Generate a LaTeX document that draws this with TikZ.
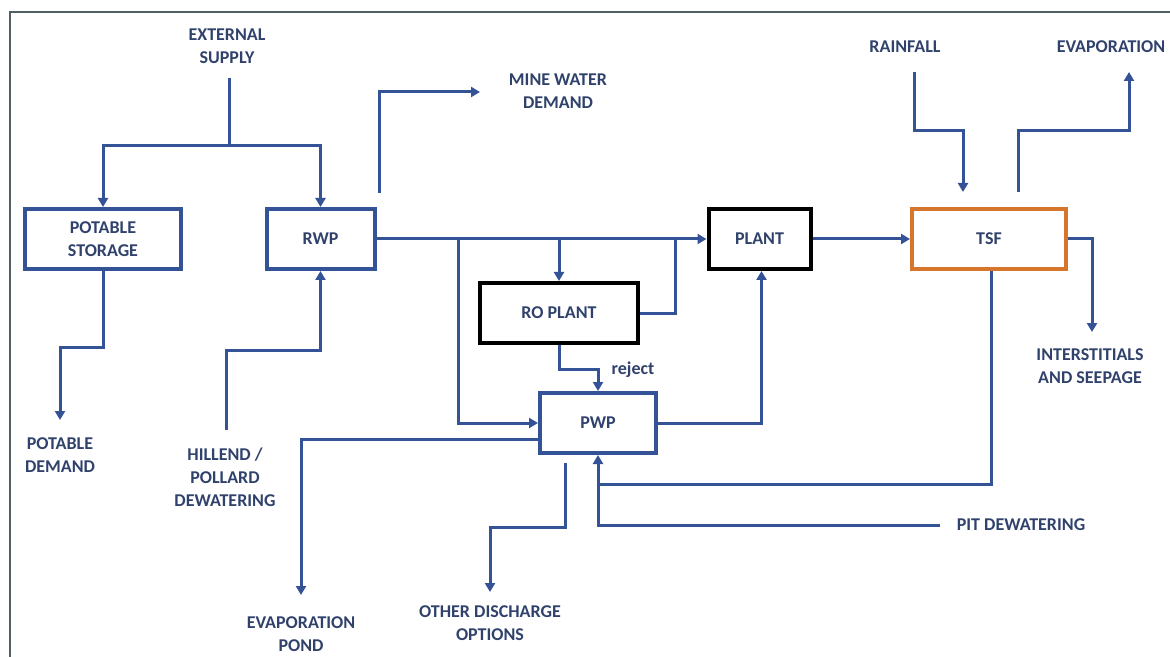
\documentclass[tikz,border=0pt]{standalone}
\usepackage{fontspec}
\setmainfont{Carlito}
\usetikzlibrary{arrows.meta,positioning}
\definecolor{flowblue}{RGB}{52,82,150}
\definecolor{txtblue}{RGB}{48,66,108}
\definecolor{tsforange}{RGB}{214,118,44}
\definecolor{framegray}{RGB}{80,96,98}
\begin{document}
\begin{tikzpicture}[x=0.5pt,y=-0.5pt,
  box/.style={draw=#1, line width=2pt, fill=white, align=center,
              font=\bfseries\fontsize{9}{11.5}\selectfont, text=txtblue,
              minimum height=30pt, inner sep=2pt},
  box/.default=flowblue,
  lbl/.style={align=center, font=\bfseries\fontsize{9}{11.5}\selectfont, text=txtblue},
  line/.style={draw=flowblue, line width=1.5pt},
  flow/.style={line, -{Triangle[length=4.5pt,width=5pt]}}]
\useasboundingbox (0,0) rectangle (1170,657);
\draw[framegray, line width=1pt] (10,657) -- (10,12) -- (1170,12);
\node[box, minimum width=78pt] (pstore) at (103,239) {POTABLE\\STORAGE};
\node[box, minimum width=54pt] (rwp) at (320.5,239) {RWP};
\node[box=black, minimum width=51pt] (plant) at (759.5,239) {PLANT};
\node[box=black, minimum width=79pt] (ro) at (559,313) {RO PLANT};
\node[box, minimum width=58pt] (pwp) at (598,423) {PWP};
\node[box=tsforange, minimum width=77pt] (tsf) at (989,239) {TSF};
\node[lbl] (extlbl) at (227,46) {EXTERNAL\\SUPPLY};
\node[lbl] (mwdlbl) at (558,91) {MINE WATER\\DEMAND};
\node[lbl] (rainlbl) at (905,47) {RAINFALL};
\node[lbl] (evaplbl) at (1111,47) {EVAPORATION};
\node[lbl] (seeplbl) at (1090,366) {INTERSTITIALS\\AND SEEPAGE};
\node[lbl] (pitlbl) at (1021,525) {PIT DEWATERING};
\node[lbl] (odolbl) at (490,623) {OTHER DISCHARGE\\OPTIONS};
\node[lbl] (pondlbl) at (301,634) {EVAPORATION\\POND};
\node[lbl] (hilllbl) at (225,477) {HILLEND /\\POLLARD\\DEWATERING};
\node[lbl] (pdemlbl) at (60,455) {POTABLE\\DEMAND};
\node[lbl] (rejlbl) at (633,370) {reject};
\coordinate (ext) at (229,78);
\coordinate (split) at (229,146);
\coordinate (mwd) at (480,92);
\coordinate (j1) at (458,239);
\coordinate (j2) at (559,239);
\coordinate (j3) at (675,239);
\coordinate (rain) at (914,72);
\coordinate (evap) at (1129,72);
\coordinate (seep) at (1092,332);
\coordinate (pit) at (940,525);
\coordinate (odo) at (490,592);
\coordinate (pond) at (301,595);
\coordinate (hill) at (226,430);
\coordinate (pdem) at (60,420);
\draw[line] (ext) -- (split);
\draw[flow] (split) -| (pstore.north);
\draw[flow] (split) -| (rwp.north);
\draw[flow] ([xshift=1.5pt,yshift=7pt]rwp.north east) |- (mwd);
\draw[flow] (rwp.east) -- (plant.west);
\draw[flow] (j1) |- (pwp.west);
\draw[flow] (j2) -- (ro.north);
\draw[line] (ro.east) -| (j3);
\draw[flow] (ro.south) -- ++(0,24) -| (pwp.north);
\draw[flow] (pwp.east) -| ([xshift=1pt]plant.south);
\draw[flow] (plant.east) -- (tsf.west);
\draw[flow] (rain) -- ++(0,59) -| ([xshift=-13pt,yshift=7.5pt]tsf.north);
\draw[flow] ([xshift=14.5pt,yshift=7.5pt]tsf.north) -- ++(0,-61) -| (evap);
\draw[flow] (tsf.east) -| (seep);
\draw[line] ([xshift=1pt]tsf.south) |- (pwp.south |- 0,484);
\draw[flow] (pit) -| (pwp.south);
\draw[flow] ([xshift=-16.5pt,yshift=-4pt]pwp.south) -- ++(0,64) -| (odo);
\draw[flow] ([yshift=-8pt]pwp.west) -| (pond);
\draw[flow] (hill) |- ([yshift=-39.5pt]rwp.south) -- (rwp.south);
\draw[flow] (pstore.south) -- ++(0,76) -| (pdem);
\end{tikzpicture}
\end{document}
